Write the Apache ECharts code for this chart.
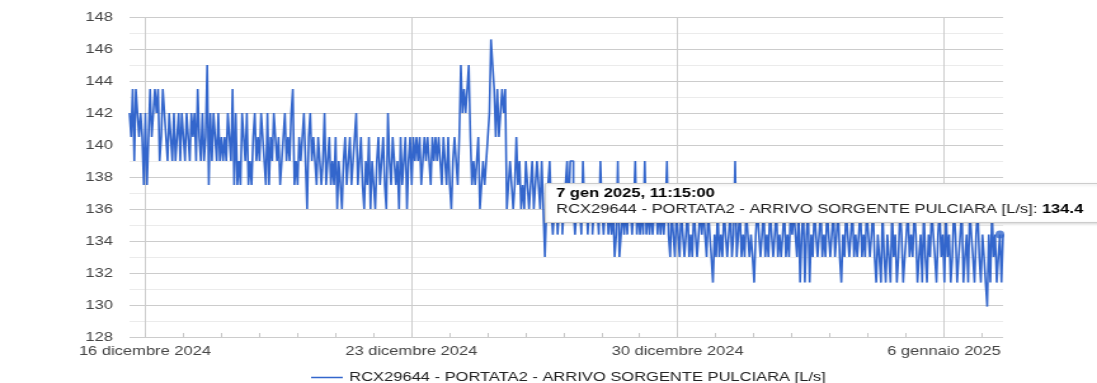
<!DOCTYPE html>
<html><head><meta charset="utf-8">
<script src="https://cdn.jsdelivr.net/npm/echarts@6/dist/echarts.min.js"></script>
<style>
html,body{margin:0;padding:0;overflow:hidden;background:#fff;width:1097px;height:383px}
#chart{width:864px;height:383px;transform:scaleX(1.26968);transform-origin:0 0;}
</style></head><body><div id="chart"></div>
<script>
const seriesName = 'RCX29644 - PORTATA2 - ARRIVO SORGENTE PULCIARA [L/s]';
const startUTC = [2024, 11, 15, 14, 15];
const stepHours = 1;
const tickLabels = ['16 dicembre 2024', '23 dicembre 2024', '30 dicembre 2024', '6 gennaio 2025'];
const tickDays = [0, 7, 14, 21];
const monthNames = ['gen','feb','mar','apr','mag','giu','lug','ago','set','ott','nov','dic'];
const highlightIndex = 549;
const yTicks = { min: 128, max: 148, step: 2 };

const flowA = [
142, 140.5, 143.5, 139, 143.5, 142, 140.5, 142, 140.5, 137.5,
142, 137.5, 140.5, 143.5, 140.5, 142, 143.5, 142, 143.5, 139,
140.5, 143.5, 142, 140.5, 139, 142, 140.5, 139, 142, 139,
140.5, 142, 139, 142, 140.5, 139, 142, 140.5, 139, 142,
140.5, 142, 139, 143.5, 140.5, 139, 142, 139, 140.5, 145,
137.5, 142, 139, 142, 140.5, 139, 142, 139];
const flowB = [
140.5, 139, 140.5, 139, 142, 140.5, 139, 143.5, 137.5, 142,
137.5, 139, 137.5, 142, 140.5, 139, 142, 137.5, 139, 137.5,
140.5, 142, 139, 140.5, 139, 142, 140.5, 139, 137.5, 142,
137.5, 140.5, 139, 142, 140.5, 139, 140.5, 137.5, 139, 140.5,
142, 139, 140.5, 139, 142, 143.5, 137.5, 139, 137.5, 140.5,
139, 140.5, 142, 139, 136, 140.5, 142, 139, 140.5, 139,
137.5, 140.5, 139, 137.5, 139, 142, 137.5, 139, 140.5, 137.5,
139, 137.5, 140.5];
const flowC = [
136, 139, 137.5, 136, 139, 140.5, 137.5, 139, 140.5, 137.5,
139, 140.5, 142, 137.5, 139, 140.5, 137.5, 136, 139, 137.5,
140.5, 136, 139, 137.5, 136, 139, 140.5, 137.5, 139, 140.5,
137.5, 136, 142, 139, 137.5, 140.5, 139, 137.5, 139, 136,
140.5, 137.5, 139, 140.5, 136];
const flowD = [
139, 140.5, 137.5, 140.5, 139, 140.5, 139, 140.5, 137.5, 139,
140.5, 139, 140.5, 139, 137.5, 140.5, 139, 140.5, 139, 140.5,
139, 137.5, 140.5, 139, 137.5, 140.5, 137.5, 136, 139, 140.5,
139, 137.5, 140.5];
const flowE = [145, 142, 143.5, 142, 143.5, 145];
const flowF = [140.5, 137.5, 139, 137.5, 139, 140.5, 136, 137.5, 139, 137.5, 139, 140.5];
const flowG = [142, 146.6, 145, 143.5, 140.5, 143.5, 140.5, 142, 143.5, 142, 143.5];
const flowH = [
136, 137.5, 139, 137.5, 136, 137.5, 140.5, 137.5, 139, 136,
137.5, 136, 139, 137.5, 136, 137.5, 139, 136, 137.5, 139,
137.5, 136, 139, 136, 133];
const flowI = [
136, 137.5, 139, 136, 134.4, 136, 137.5, 134.4, 136, 136,
134.4, 136, 137.5, 139, 136, 139, 139, 136, 134.4, 136,
137.5, 136, 134.4, 139, 136, 137.5, 134.4, 136, 136, 134.4,
136, 137.5, 136, 134.4, 139, 136, 134.4, 136, 137.5, 134.4,
136, 134.4, 136, 133, 134.4, 139, 133, 134.4, 136, 134.4,
136, 134.4, 137.5, 136, 134.4, 136, 139, 134.4];
const flowJ = [
136, 134.4, 136, 134.4, 139, 134.4, 136, 134.4, 136, 134.4,
136, 137.5, 134.4, 136, 134.4, 136, 134.4, 136, 139, 134.4,
133, 136, 134.4, 133, 136];
const flowK = [
134.4, 133, 136, 134.4, 133, 134.4, 136, 133, 134.4, 133,
136, 134.4, 133, 134.4, 136, 134.4, 136, 134.4, 133, 136,
134.4, 133, 131.4, 134.4, 133, 136, 133, 134.4, 133, 136,
134.4, 133, 134.4, 136, 133, 134.4, 139, 133, 134.4, 136,
133, 134.4, 133, 136, 134.4, 133, 134.4, 133, 131.4, 134.4,
136, 134.4, 133, 134.4, 136, 133, 134.4, 133, 136, 134.4,
133, 134.4, 136, 133, 134.4, 133, 134.4, 136, 133, 134.4,
133, 136, 134.4, 136, 134.4, 133, 136, 131.4, 134.4, 136,
131.4, 134.4, 136, 131.4, 134.4, 133, 136, 134.4, 133, 134.4,
136, 133, 134.4, 133, 136, 134.4, 133, 134.4, 136, 133,
134.4, 136, 133, 131.4, 134.4, 133, 136, 134.4, 133, 134.4,
136, 133, 134.4, 133, 134.4, 136, 133, 134.4, 133, 136,
134.4, 133, 134.4, 136, 133];
const flowL = [
131.4, 134.4, 133, 131.4, 136, 133, 131.4, 134.4, 133, 131.4,
136, 133, 134.4, 131.4, 133, 136, 134.4, 131.4, 133, 134.4,
136, 133, 134.4, 133, 136, 134.4, 131.4, 133, 134.4, 131.4,
136, 133, 131.4, 134.4, 133, 136, 134.4, 133, 131.4, 134.4,
136, 133, 134.4, 131.4, 136, 133, 134.4, 131.4, 133, 136,
134.4, 131.4, 133, 134.4, 136, 131.4, 133, 134.4, 131.4, 136,
134.4, 133, 131.4, 134.4, 136, 133, 131.4, 134.4, 133, 131.4,
129.9, 134.4, 131.4, 136, 133, 134.4, 131.4, 133, 134.4, 131.4, 134.4];

const values = [].concat(flowA, flowB, flowC, flowD, flowE, flowF, flowG, flowH, flowI, flowJ, flowK, flowL);
const day0 = Date.UTC(2024, 11, 16, 0, 0);
const startMs = Date.UTC.apply(null, startUTC);
const startH = (startMs - day0) / 3600000;
const pts = values.map((v, i) => [startH + i * stepHours, v]);
const xMin = pts[0][0], xMax = pts[pts.length - 1][0];
const dailyTicks = [];
for (let d = Math.ceil(xMin / 24); d * 24 <= xMax; d++) dailyTicks.push(d * 24);
const weekTicks = tickDays.map(d => d * 24);

function pad(n) { return (n < 10 ? '0' : '') + n; }
const hp = pts[highlightIndex];
const hd = new Date(day0 + hp[0] * 3600000);
const tipDate = hd.getUTCDate() + ' ' + monthNames[hd.getUTCMonth()] + ' ' + hd.getUTCFullYear() + ', ' +
  pad(hd.getUTCHours()) + ':' + pad(hd.getUTCMinutes()) + ':' + pad(hd.getUTCSeconds());

const FONT = 'Arial, "Liberation Sans", sans-serif';
const chart = echarts.init(document.getElementById('chart'), null, { renderer: 'canvas' });
chart.setOption({
  animation: false,
  backgroundColor: '#fff',
  textStyle: { fontFamily: FONT },
  grid: { left: 102, right: 74, top: 17, bottom: 46, containLabel: false },
  legend: {
    data: [seriesName], left: 240, top: 366, icon: 'rect', itemWidth: 25, itemHeight: 1.5, itemGap: 5,
    textStyle: { color: '#222', fontSize: 13, fontFamily: FONT }
  },
  xAxis: [{
    type: 'value', min: xMin, max: xMax,
    axisLine: { show: false },
    axisLabel: { show: false },
    splitLine: { show: false },
    axisTick: { show: true, inside: true, length: 4, customValues: dailyTicks, lineStyle: { color: '#c8c8c8' } }
  }, {
    type: 'value', min: xMin, max: xMax, position: 'bottom',
    axisLine: { show: false },
    axisTick: { show: false, customValues: weekTicks },
    axisLabel: {
      customValues: weekTicks, margin: 8, color: '#444', fontSize: 13, fontFamily: FONT,
      formatter: v => tickLabels[weekTicks.indexOf(v)]
    },
    splitLine: { show: true, lineStyle: { color: '#cccccc', width: 1 } }
  }],
  yAxis: {
    type: 'value', min: yTicks.min, max: yTicks.max, interval: yTicks.step,
    axisLine: { show: false }, axisTick: { show: false },
    axisLabel: { margin: 13, color: '#444', fontSize: 13, fontFamily: FONT },
    splitLine: { lineStyle: { color: '#cccccc' } },
    minorTick: { show: false, splitNumber: 2 },
    minorSplitLine: { show: true, lineStyle: { color: '#ebebeb' } }
  },
  series: [{
    name: seriesName, type: 'line', step: 'end', xAxisIndex: 0, data: pts, showSymbol: false, silent: true,
    color: '#3366cc', lineStyle: { width: 1.6, color: '#3366cc' }
  }, {
    name: 'highlight', type: 'scatter', xAxisIndex: 0, data: [hp], symbolSize: [7, 8], silent: true,
    itemStyle: { color: '#3366cc' }, z: 5
  }],
  graphic: [{
    type: 'rect', left: 429, top: 183, z: 100,
    shape: { width: 600, height: 39 },
    style: { fill: '#fff', stroke: '#cccccc', lineWidth: 1, shadowBlur: 3, shadowColor: 'rgba(0,0,0,0.15)', shadowOffsetY: 1 }
  }, {
    type: 'text', left: 438, top: 187, z: 101,
    style: {
      text: '{b|' + tipDate + '}\n{n|' + seriesName + ': }{b|' + hp[1] + '}',
      rich: {
        b: { fontWeight: 'bold', fontSize: 13, fontFamily: FONT, fill: '#000', lineHeight: 15.5 },
        n: { fontSize: 13, fontFamily: FONT, fill: '#222', lineHeight: 15.5 }
      }
    }
  }]
});
</script></body></html>
